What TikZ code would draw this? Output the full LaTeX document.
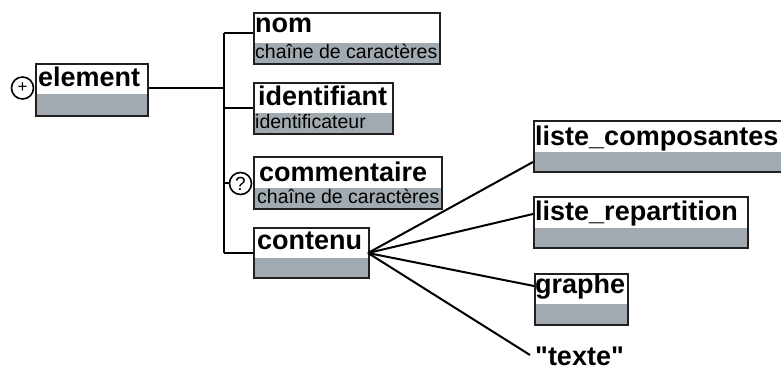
\documentclass[tikz,border=0pt]{standalone}
\usepackage{fontspec}
\setmainfont{Liberation Sans}
\newfontfamily\plainfont{Liberation Sans}[Ligatures=TeXOff]
\definecolor{boxgray}{RGB}{160,170,176}
\definecolor{boxline}{RGB}{35,31,32}
\tikzset{
  box/.style={draw=boxline, line width=2.2pt, inner sep=0pt, anchor=north west,
    path picture={\fill[boxgray] (path picture bounding box.south west) rectangle ([yshift=#1]path picture bounding box.south east);}},
  box/.default=21pt,
  ttl/.style={anchor=base west, inner sep=0pt, font=\bfseries\fontsize{27}{27}\selectfont},
  sub/.style={anchor=base west, inner sep=0pt, font=\fontsize{19.5}{20}\selectfont},
  conn/.style={line width=2pt, black},
  occmark/.style={circle, draw=black, line width=1.6pt, minimum size=22pt, inner sep=0pt}
}
\begin{document}
\begin{tikzpicture}[x=1pt,y=-1pt]
\useasboundingbox (0,0) rectangle (781,371);
\clip (0,0) rectangle (781,371);
% boxes
\node[box=22pt, minimum width=112pt, minimum height=52pt] (element) at (35,63) {};
\node[box, minimum width=186pt, minimum height=51pt] (nom) at (253,12) {};
\node[box, minimum width=139pt, minimum height=51pt] (identifiant) at (253,82) {};
\node[box, minimum width=188pt, minimum height=52pt] (commentaire) at (253,156) {};
\node[box=20pt, minimum width=115pt, minimum height=50pt] (contenu) at (253,227) {};
\node[box=20pt, minimum width=270pt, minimum height=51pt] (lcomp) at (533,120) {};
\node[box=20pt, minimum width=214pt, minimum height=51pt] (lrep) at (533,196) {};
\node[box, minimum width=93pt, minimum height=51pt] (graphe) at (534,273) {};
% texts
\node[ttl] (t-element) at (38,87) {element};
\node[ttl] (t-nom) at (255,33) {nom};
\node[sub] (s-nom) at (255,59) {chaîne de caractères};
\node[ttl] (t-ident) at (258,106) {identifiant};
\node[sub] (s-ident) at (255,129) {identificateur};
\node[ttl] (t-comm) at (259,182) {commentaire};
\node[sub] (s-comm) at (257,204) {chaîne de caractères};
\node[ttl] (t-contenu) at (257,250) {contenu};
\node[ttl] (t-lcomp) at (535,146) {liste\_composantes};
\node[ttl] (t-lrep) at (535,221) {liste\_repartition};
\node[ttl] (t-graphe) at (535,293) {graphe};
\node[ttl] (texte) at (535,365) {\plainfont\bfseries "texte"};
% markers
\node[occmark, font=\fontsize{17}{17}\selectfont] (plus) at (22.5,88) {+};
\node[occmark, font=\fontsize{19}{19}\selectfont] (opt) at (240.5,183.5) {?};
% trunk
\coordinate (j0) at (224,88);
\coordinate (j1) at (224,33);
\coordinate (j2) at (224,108);
\coordinate (j3) at (224,183.5);
\coordinate (j4) at (224,253);
\draw[conn] (element.east |- j0) -- (j0);
\draw[conn] (j1) -- (j4);
\draw[conn] (j1) -- (nom.west |- j1);
\draw[conn] (j2) -- (identifiant.west |- j2);
\draw[conn] (j3) -- (opt.west);
\draw[conn] (j4) -- (contenu.west |- j4);
% fan
\coordinate (f0) at (368,253);
\coordinate (e1) at (533,162);
\coordinate (e2) at (533,214);
\coordinate (e3) at (534,286);
\coordinate (e4) at (530,355);
\draw[conn] (f0) -- (e1);
\draw[conn] (f0) -- (e2);
\draw[conn] (f0) -- (e3);
\draw[conn] (f0) -- (e4);
\end{tikzpicture}
\end{document}
